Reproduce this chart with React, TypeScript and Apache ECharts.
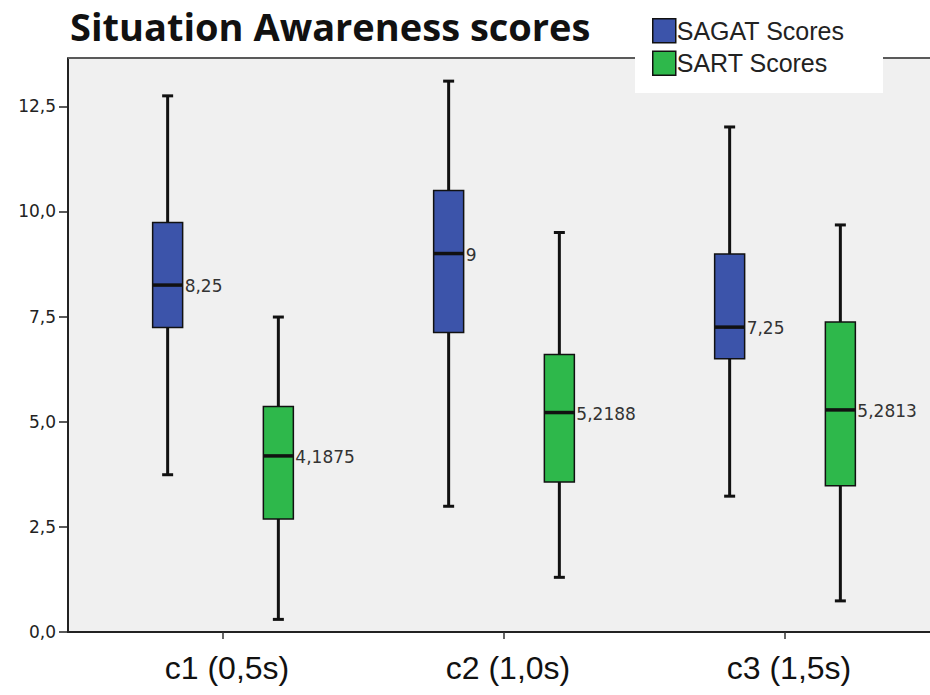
import React, { useEffect, useRef } from "react";
import * as echarts from "echarts";

const categories = ["c1 (0,5s)", "c2 (1,0s)", "c3 (1,5s)"];
const seriesNames = ["SAGAT Scores", "SART Scores"];
// [min, Q1, median, Q3, max]
const sagatStats = [
  [3.74, 7.24, 8.25, 9.74, 12.75],
  [2.99, 7.12, 9, 10.5, 13.1],
  [3.23, 6.5, 7.25, 8.99, 12.01],
];
const sartStats = [
  [0.3, 2.69, 4.1875, 5.36, 7.49],
  [1.3, 3.57, 5.2188, 6.6, 9.5],
  [0.74, 3.48, 5.2813, 7.37, 9.68],
];
const medianLabels = [
  ["8,25", "9", "7,25"],
  ["4,1875", "5,2188", "5,2813"],
];
const yTicks = [0, 2.5, 5, 7.5, 10, 12.5];
const colors = ["#3c54aa", "#2eb84b"];

const GRID_LEFT = 68;
const GRID_RIGHT = 0;
const UNIT_PX = 281;
const FIRST_TICK_PX = 223;
const X_MIN = 1 - (FIRST_TICK_PX - GRID_LEFT) / UNIT_PX;
const X_MAX = X_MIN + (930 - GRID_LEFT - GRID_RIGHT) / UNIT_PX;

function makeRenderItem(offsetFrac: number, labels: string[]) {
  return (params: any, api: any) => {
    const xv = api.value(0);
    const vals = [1, 2, 3, 4, 5].map((i) => api.value(i));
    const unit = api.size([1, 0])[0];
    const cx = api.coord([xv, 0])[0] + offsetFrac * unit;
    const y = vals.map((v: number) => api.coord([xv, v])[1]);
    const hw = 15;
    const cap = 5.5;
    const stroke = "#111";
    const color = api.visual("color");
    return {
      type: "group",
      children: [
        { type: "line", shape: { x1: cx, y1: y[4], x2: cx, y2: y[3] }, style: { stroke, lineWidth: 3 } },
        { type: "line", shape: { x1: cx, y1: y[1], x2: cx, y2: y[0] }, style: { stroke, lineWidth: 3 } },
        { type: "line", shape: { x1: cx - cap, y1: y[4], x2: cx + cap, y2: y[4] }, style: { stroke, lineWidth: 3 } },
        { type: "line", shape: { x1: cx - cap, y1: y[0], x2: cx + cap, y2: y[0] }, style: { stroke, lineWidth: 3 } },
        {
          type: "rect",
          shape: { x: cx - hw, y: y[3], width: hw * 2, height: y[1] - y[3] },
          style: { fill: color, stroke, lineWidth: 1.5 },
        },
        { type: "line", shape: { x1: cx - hw, y1: y[2], x2: cx + hw, y2: y[2] }, style: { stroke, lineWidth: 3.5 } },
        {
          type: "text",
          x: cx + hw + 2,
          y: y[2] + 1,
          style: {
            text: labels[params.dataIndex],
            fill: "#333",
            font: "17px 'DejaVu Sans'",
            verticalAlign: "middle",
            align: "left",
          },
        },
      ],
    };
  };
}

export default function App() {
  const ref = useRef<HTMLDivElement>(null);
  useEffect(() => {
    if (!ref.current) return;
    const chart = echarts.init(ref.current, undefined, { renderer: "svg" });
    const toData = (stats: number[][]) => stats.map((s, i) => [i + 1, ...s]);
    chart.setOption({
      animation: false,
      backgroundColor: "#ffffff",
      title: {
        text: "Situation Awareness scores",
        left: 70,
        top: 7,
        padding: 0,
        textStyle: { fontFamily: "Open Sans", fontWeight: "bold", fontSize: 38, color: "#111" },
      },
      legend: {
        orient: "vertical",
        left: 652,
        top: 18,
        padding: 0,
        itemWidth: 23,
        itemHeight: 24,
        itemGap: 7,
        icon: "rect",
        z: 20,
        textStyle: { fontFamily: "Liberation Sans", fontSize: 25, color: "#222", padding: [4, 0, 0, -4] },
        data: seriesNames.map((n) => ({ name: n, itemStyle: { borderColor: "#111", borderWidth: 1.5 } })),
      },
      graphic: [
        {
          type: "line",
          z: 3,
          shape: { x1: GRID_LEFT, y1: 58, x2: 930, y2: 58 },
          style: { stroke: "#5a5a5a", lineWidth: 2 },
        },
        {
          type: "rect",
          z: 15,
          shape: { x: 635, y: 40, width: 248, height: 53 },
          style: { fill: "#ffffff" },
        },
      ],
      grid: {
        left: GRID_LEFT,
        right: GRID_RIGHT,
        top: 58,
        bottom: 63,
        show: true,
        backgroundColor: "#f0f0f0",
        borderWidth: 0,
      },
      xAxis: {
        type: "value",
        min: X_MIN,
        max: X_MAX,
        splitLine: { show: false },
        axisLine: { show: true, lineStyle: { color: "#222", width: 2 } },
        axisTick: { show: true, customValues: [1, 2, 3], length: 7, lineStyle: { color: "#333", width: 1.5 } },
        axisLabel: {
          customValues: [1, 2, 3],
          formatter: (v: number) => categories[Math.round(v) - 1],
          fontFamily: "Liberation Sans",
          fontSize: 32,
          color: "#111",
          margin: 20,
          padding: [0, 0, 0, 8],
        },
      },
      yAxis: {
        type: "value",
        min: 0,
        max: 13.65,
        splitLine: { show: false },
        axisLine: { show: true, lineStyle: { color: "#222", width: 2 } },
        axisTick: { show: true, customValues: yTicks, length: 9, lineStyle: { color: "#222", width: 1.5 } },
        axisLabel: {
          customValues: yTicks,
          formatter: (v: number) => v.toFixed(1).replace(".", ","),
          fontFamily: "DejaVu Sans",
          fontSize: 17,
          color: "#222",
          margin: 12,
        },
      },
      series: [
        {
          name: seriesNames[0],
          type: "custom",
          itemStyle: { color: colors[0] },
          encode: { x: 0, y: [1, 2, 3, 4, 5] },
          renderItem: makeRenderItem(-0.197, medianLabels[0]),
          data: toData(sagatStats),
          z: 5,
        },
        {
          name: seriesNames[1],
          type: "custom",
          itemStyle: { color: colors[1] },
          encode: { x: 0, y: [1, 2, 3, 4, 5] },
          renderItem: makeRenderItem(0.197, medianLabels[1]),
          data: toData(sartStats),
          z: 5,
        },
      ],
    });
    return () => chart.dispose();
  }, []);
  return <div ref={ref} style={{ position: "absolute", left: 0, top: 0, width: 930, height: 695 }} />;
}
